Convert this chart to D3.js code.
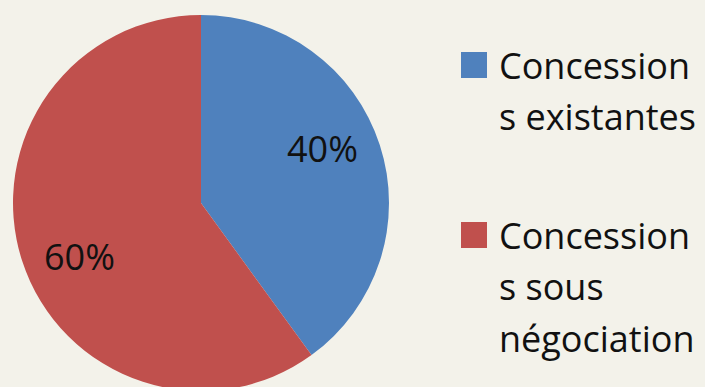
<!DOCTYPE html>
<html>
<head>
<meta charset="utf-8">
<script src="https://cdn.jsdelivr.net/npm/d3@7"></script>
<style>
    html, body { margin: 0; padding: 0; background: #f3f2ea; }
    svg { display: block; }
</style>
</head>
<body>
<div id="chart"></div>
<script>
// Data
const categories = ["Concessions existantes", "Concessions sous négociation"];
const values = [40, 60];
// legend lines, wrapped like in the original
const legendLines = [
    ["Concession", "s existantes"],
    ["Concession", "s sous", "négociation"]
];
const colors = ["#4f81bd", "#c0504d"];

const width = 705, height = 387;
const cx = 201, cy = 203, radius = 188;

const svg = d3.select("#chart").append("svg")
    .attr("width", width)
    .attr("height", height)
    .style("font-family", "'Open Sans', sans-serif");

svg.append("rect")
    .attr("width", width)
    .attr("height", height)
    .attr("fill", "#f3f2ea");

const data = categories.map((c, i) => ({ name: c, value: values[i], color: colors[i] }));

const pie = d3.pie().value(d => d.value).sort(null);
const arc = d3.arc().innerRadius(0).outerRadius(radius);

const g = svg.append("g").attr("transform", `translate(${cx},${cy})`);
const arcs = pie(data);

g.selectAll("path")
    .data(arcs)
    .join("path")
    .attr("d", arc)
    .attr("fill", d => d.data.color);

// percentage labels (slightly rotated off the slice middle, like the source)
const total = d3.sum(values);
const labelR = 133;
const shift = -6 * Math.PI / 180;
g.selectAll("text.pct")
    .data(arcs)
    .join("text")
    .attr("class", "pct")
    .attr("x", d => labelR * Math.sin((d.startAngle + d.endAngle) / 2 + shift))
    .attr("y", d => -labelR * Math.cos((d.startAngle + d.endAngle) / 2 + shift))
    .attr("dy", "0.36em")
    .attr("text-anchor", "middle")
    .attr("font-size", 36)
    .attr("fill", "#111")
    .text(d => Math.round(d.data.value / total * 100) + "%");

// legend
const legendTop = [52, 222];
const lineH = 51.7;
const legend = svg.append("g");
data.forEach((d, i) => {
    legend.append("rect")
        .attr("x", 461)
        .attr("y", legendTop[i])
        .attr("width", 26)
        .attr("height", 26)
        .attr("fill", d.color);
    const t = legend.append("text")
        .attr("x", 499)
        .attr("y", legendTop[i] + 26.5)
        .attr("font-size", 36)
        .attr("fill", "#111");
    legendLines[i].forEach((line, j) => {
        t.append("tspan")
            .attr("x", 499)
            .attr("dy", j === 0 ? 0 : lineH)
            .text(line);
    });
});
</script>
</body>
</html>
